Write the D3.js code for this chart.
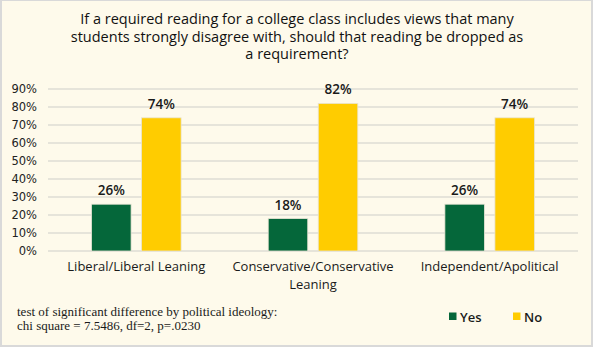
<!DOCTYPE html>
<html>
<head>
<meta charset="utf-8">
<script src="https://cdn.jsdelivr.net/npm/d3@7"></script>
<style>
  body { margin: 0; background: #fff; }
  svg { display: block; }
</style>
</head>
<body>
<div id="chart"></div>
<script>
// chart data
const categories = [["Liberal/Liberal Leaning"], ["Conservative/Conservative", "Leaning"], ["Independent/Apolitical"]];
const seriesNames = ["Yes", "No"];
const yesValues = [26, 18, 26];
const noValues = [74, 82, 74];
const yTicks = [0, 10, 20, 30, 40, 50, 60, 70, 80, 90];
const titleLines = [
    "If a required reading for a college class includes views that many",
    "students strongly disagree with, should that reading be dropped as",
    "a requirement?"
];
const noteLines = [
    "test of significant difference by political ideology:",
    "chi square = 7.5486, df=2, p=.0230"
];

const W = 594, H = 350;
const colors = {Yes: "#05673a", No: "#ffcc00"};
const sans = "'Open Sans', Lato, sans-serif";
const margin = {top: 89, right: 16, bottom: 99, left: 48};
const width = W - margin.left - margin.right;
const height = H - margin.top - margin.bottom;

const svg = d3.select("#chart").append("svg")
    .attr("width", W)
    .attr("height", H);

// background + frame
svg.append("rect")
    .attr("x", 1).attr("y", 0)
    .attr("width", W - 3).attr("height", H - 4)
    .attr("fill", "#fefaeb")
    .attr("stroke", "#d9d9d9")
    .attr("stroke-width", 2);

// title
svg.append("g").selectAll("text")
    .data(titleLines)
    .join("text")
    .attr("x", 297)
    .attr("y", (d, i) => 24 + i * 17.5)
    .attr("text-anchor", "middle")
    .attr("font-family", sans)
    .attr("font-size", 14.5)
    .attr("font-weight", 500)
    .attr("fill", "#111")
    .text(d => d);

const g = svg.append("g").attr("transform", `translate(${margin.left},${margin.top})`);

// scales
const y = d3.scaleLinear().domain([0, 90]).range([height, 0]);
const x0 = d3.scaleBand().domain(d3.range(categories.length)).range([0, width])
    .paddingInner(0.493).paddingOuter(0.2465);
const x1 = d3.scaleBand().domain(seriesNames).range([0, x0.bandwidth()]).paddingInner(0.21);

// grid lines
g.append("g").selectAll("line")
    .data(yTicks)
    .join("line")
    .attr("x1", 0).attr("x2", width)
    .attr("y1", d => y(d)).attr("y2", d => y(d))
    .attr("stroke", "#dedcd4")
    .attr("stroke-width", 1.5);

// y axis
const yAxis = g.append("g")
    .call(d3.axisLeft(y).tickValues(yTicks).tickFormat(d => d + "%").tickSize(0).tickPadding(11));
yAxis.select(".domain").remove();
yAxis.selectAll("text")
    .attr("font-family", "'DejaVu Sans', sans-serif")
    .attr("font-size", 11.5)
    .attr("fill", "#222");

// bars
const rows = categories.map((c, i) => ({i: i, Yes: yesValues[i], No: noValues[i]}));
const groups = g.append("g").selectAll("g")
    .data(rows)
    .join("g")
    .attr("transform", d => `translate(${x0(d.i)},0)`);

groups.selectAll("rect")
    .data(d => seriesNames.map(k => ({key: k, value: d[k]})))
    .join("rect")
    .attr("x", d => x1(d.key))
    .attr("y", d => y(d.value))
    .attr("width", x1.bandwidth())
    .attr("height", d => height - y(d.value))
    .attr("fill", d => colors[d.key])
    .attr("stroke", "#e8e4d4")
    .attr("stroke-width", 0.8);

groups.selectAll("text")
    .data(d => seriesNames.map(k => ({key: k, value: d[k]})))
    .join("text")
    .attr("x", d => x1(d.key) + x1.bandwidth() / 2)
    .attr("y", d => y(d.value) - 9)
    .attr("text-anchor", "middle")
    .attr("font-family", sans)
    .attr("font-size", 13.5)
    .attr("font-weight", 600)
    .attr("fill", "#1a1a1a")
    .text(d => d.value + "%");

// category labels
const catLabels = g.append("g").selectAll("text")
    .data(categories)
    .join("text")
    .attr("x", (d, i) => x0(i) + x0.bandwidth() / 2)
    .attr("y", height + 20)
    .attr("text-anchor", "middle")
    .attr("font-family", sans)
    .attr("font-size", 13)
    .attr("font-weight", 500)
    .attr("fill", "#1a1a1a");
catLabels.selectAll("tspan")
    .data(d => d)
    .join("tspan")
    .attr("x", function () { return d3.select(this.parentNode).attr("x"); })
    .attr("dy", (d, i) => i === 0 ? 0 : 17.5)
    .text(d => d);

// footnote
svg.append("g").selectAll("text")
    .data(noteLines)
    .join("text")
    .attr("x", 17)
    .attr("y", (d, i) => 316 + i * 14)
    .attr("font-family", "'Liberation Serif', serif")
    .attr("font-size", 13)
    .attr("fill", "#1a1a1a")
    .text(d => d);

// legend
const legend = svg.append("g").selectAll("g")
    .data(seriesNames)
    .join("g")
    .attr("transform", (d, i) => `translate(${449 + i * 64},312.5)`);
legend.append("rect")
    .attr("width", 7.5).attr("height", 7.5)
    .attr("fill", d => colors[d]);
legend.append("text")
    .attr("x", 11).attr("y", 9.5)
    .attr("font-family", sans)
    .attr("font-size", 13)
    .attr("font-weight", 600)
    .attr("fill", "#1a1a1a")
    .text(d => d);
</script>
</body>
</html>
